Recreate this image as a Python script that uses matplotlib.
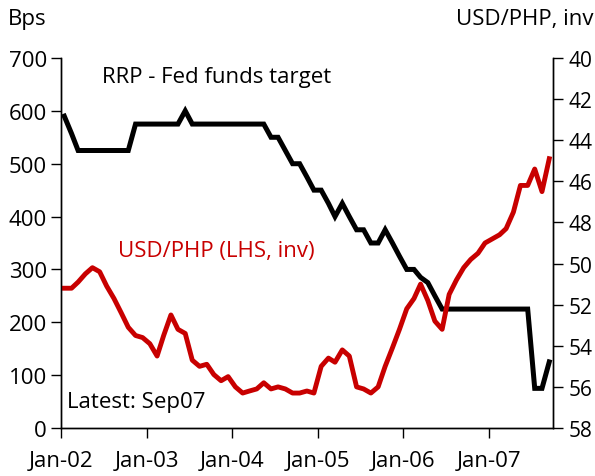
import matplotlib
matplotlib.use('Agg')
from matplotlib import pyplot as plt
import matplotlib.dates as mdates
import pandas as pd

plt.rcParams['font.family'] = ['Open Sans', 'DejaVu Sans']
plt.rcParams['font.size'] = 16

# monthly data, Jan-02 .. Sep-07 (plotted mid-month)
months = pd.date_range('2002-01-01', periods=69, freq='MS') + pd.Timedelta(days=14)

# RRP minus Fed funds target, bps (left axis)
spread = [590, 557, 525, 525, 525, 525, 525, 525, 525, 525,
          575, 575, 575, 575, 575, 575, 575, 600, 575, 575,
          575, 575, 575, 575, 575, 575, 575, 575, 575, 550,
          550, 525, 500, 500, 475, 450, 450, 425, 400, 425,
          400, 375, 375, 350, 350, 375, 350, 325, 300, 300,
          285, 275, 250, 225, 225, 225, 225, 225, 225, 225,
          225, 225, 225, 225, 225, 225, 75, 75, 125]

# USD/PHP (right axis, inverted)
usdphp = [51.2, 51.2, 50.9, 50.5, 50.2, 50.4, 51.1, 51.7, 52.4, 53.1,
          53.5, 53.6, 53.9, 54.5, 53.5, 52.5, 53.2, 53.4, 54.7, 55.0,
          54.9, 55.4, 55.7, 55.5, 56.0, 56.3, 56.2, 56.1, 55.8, 56.1,
          56.0, 56.1, 56.3, 56.3, 56.2, 56.3, 55.0, 54.6, 54.8, 54.2,
          54.5, 56.0, 56.1, 56.3, 56.0, 55.0, 54.1, 53.2, 52.2, 51.7,
          51.0, 51.8, 52.8, 53.2, 51.5, 50.8, 50.2, 49.8, 49.5, 49.0,
          48.8, 48.6, 48.3, 47.5, 46.2, 46.2, 45.4, 46.5, 44.9]

red = '#C80000'

fig = plt.figure(figsize=(5.95, 4.77), dpi=100)
ax = fig.add_axes([61/595, 1-429/477, (553-61)/595, (429-59)/477])
ax2 = ax.twinx()

ax.plot(months, spread, color='black', lw=3.6, solid_joinstyle='miter')
ax2.plot(months, usdphp, color=red, lw=3.5, solid_joinstyle='round')

ax.set_ylim(0, 700)
ax.set_yticks(range(0, 701, 100))
ax2.set_ylim(58, 40)
ax2.set_yticks(range(40, 59, 2))

ax.set_xlim(pd.Timestamp('2002-01-01'), pd.Timestamp('2007-10-01'))
ax.set_xticks(pd.date_range('2002-01-01', '2007-01-01', freq='YS'))
ax.xaxis.set_major_formatter(mdates.DateFormatter('%b-%y'))

for a in (ax, ax2):
    a.spines['top'].set_visible(False)
    for s in a.spines.values():
        s.set_linewidth(1.0)
ax.tick_params(axis='both', direction='out', length=7, width=1, pad=3)
ax.tick_params(axis='x', pad=9)
ax2.tick_params(axis='y', direction='out', length=7, width=1, pad=4, labelsize=15)

fig.text(8/595, 1-20/477, 'Bps', ha='left', va='center')
fig.text(593/595, 1-20/477, 'USD/PHP, inv', ha='right', va='center')
fig.text(102/595, 1-77/477, 'RRP - Fed funds target', ha='left', va='center')
fig.text(118/595, 1-252/477, 'USD/PHP (LHS, inv)', ha='left', va='center', color=red)
fig.text(67/595, 1-403/477, 'Latest: Sep07', ha='left', va='center')

fig.savefig('out.png', dpi=100)
